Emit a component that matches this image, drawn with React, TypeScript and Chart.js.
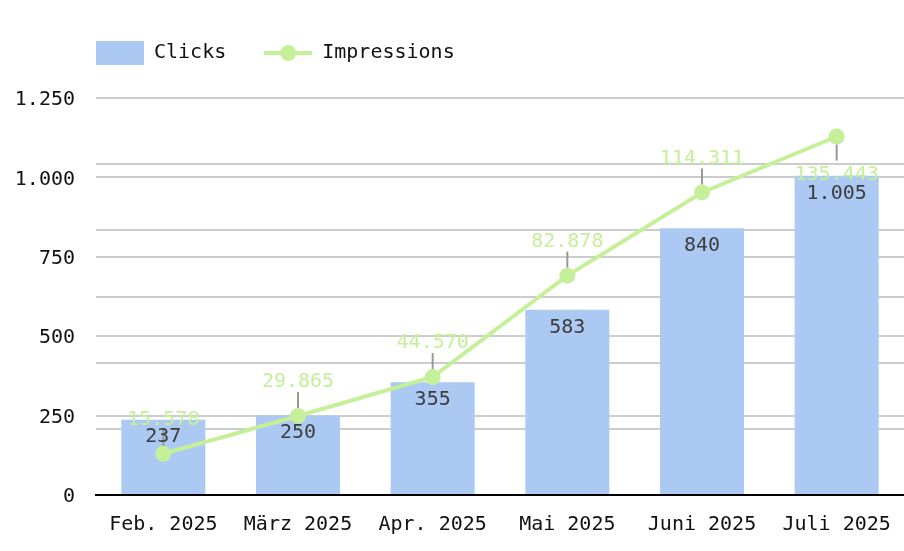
import React, { useEffect, useRef } from 'react';
import { Chart, registerables } from 'chart.js';

Chart.register(...registerables);

// ---- data ----
const categories = ['Feb. 2025', 'März 2025', 'Apr. 2025', 'Mai 2025', 'Juni 2025', 'Juli 2025'];
const clicks = [237, 250, 355, 583, 840, 1005];
const impressions = [15578, 29865, 44570, 82878, 114311, 135443];
const clickAxis = [0, 1250, 250]; // min, max, step
const impressionAxis = [0, 150000, 25000]; // min, max, step

// ---- style ----
const FONT = "'DejaVu Sans Mono', monospace";
const BAR = '#abc9f2';
const LINE = '#c6ef9a';
const GRID = '#cccccc';
const TEXT = '#111111';
const BAR_LABEL = '#3d3d3d';
const LEADER = '#999999';

const fmt = (v: number) => String(Math.round(v)).replace(/\B(?=(\d{3})+(?!\d))/g, '.');

function makeIcon(kind: 'bar' | 'line') {
  const c = document.createElement('canvas');
  c.width = 48;
  c.height = 24;
  const g = c.getContext('2d')!;
  if (kind === 'bar') {
    g.fillStyle = BAR;
    g.fillRect(0, 0, 48, 24);
  } else {
    g.strokeStyle = LINE;
    g.lineWidth = 4;
    g.beginPath();
    g.moveTo(0, 12);
    g.lineTo(48, 12);
    g.stroke();
    g.fillStyle = LINE;
    g.beginPath();
    g.arc(24, 12, 8, 0, Math.PI * 2);
    g.fill();
  }
  return c;
}

const layoutTweak = {
  id: 'layoutTweak',
  afterInit(chart: any) {
    const lg = chart.legend;
    if (lg && !lg.__wrapped) {
      const orig = lg.fit;
      lg.fit = function () {
        orig.call(this);
        this.height = 98;
      };
      lg.__wrapped = true;
    }
  },
  afterLayout(chart: any) {
    const lg = chart.legend;
    if (lg) {
      const w = lg.right - lg.left;
      lg.left = 58;
      lg.right = 58 + w;
      lg.top = 5;
    }
  },
};

const valueLabels = {
  id: 'valueLabels',
  afterDatasetsDraw(chart: any) {
    const ctx = chart.ctx;
    ctx.save();
    ctx.font = `20px ${FONT}`;
    ctx.textAlign = 'center';
    ctx.textBaseline = 'middle';
    const top = chart.chartArea.top;
    const lineMeta = chart.getDatasetMeta(1);
    lineMeta.data.forEach((pt: any, i: number) => {
      const dir = pt.y - 47 < top ? 1 : -1;
      ctx.strokeStyle = LEADER;
      ctx.lineWidth = 2;
      ctx.beginPath();
      ctx.moveTo(pt.x, pt.y + dir * 8);
      ctx.lineTo(pt.x, pt.y + dir * 24);
      ctx.stroke();
      ctx.fillStyle = LINE;
      ctx.fillText(fmt(impressions[i]), pt.x, pt.y + (dir > 0 ? 38 : -34));
    });
    const barMeta = chart.getDatasetMeta(0);
    barMeta.data.forEach((bar: any, i: number) => {
      ctx.fillStyle = BAR_LABEL;
      ctx.fillText(fmt(clicks[i]), bar.x, bar.y + 17.5);
    });
    ctx.restore();
  },
};

export default function App() {
  const ref = useRef<HTMLCanvasElement>(null);

  useEffect(() => {
    if (!ref.current) return;
    const icons = [makeIcon('bar'), makeIcon('line')];
    const chart = new Chart(ref.current, {
      type: 'bar',
      data: {
        labels: categories,
        datasets: [
          {
            type: 'bar',
            label: 'Clicks',
            data: clicks,
            backgroundColor: BAR,
            borderWidth: 0,
            yAxisID: 'y',
            order: 2,
            categoryPercentage: 0.8,
            barPercentage: 0.78,
          } as any,
          {
            type: 'line',
            label: 'Impressions',
            data: impressions,
            borderColor: LINE,
            backgroundColor: LINE,
            borderWidth: 4,
            pointRadius: 8,
            pointHoverRadius: 8,
            pointBackgroundColor: LINE,
            pointBorderWidth: 0,
            tension: 0,
            yAxisID: 'y1',
            order: 1,
          } as any,
        ],
      },
      options: {
        responsive: false,
        animation: false,
        layout: { padding: 0, autoPadding: false },
        plugins: {
          tooltip: { enabled: false },
          legend: {
            display: true,
            position: 'top',
            align: 'start',
            labels: {
              usePointStyle: true,
              pointStyleWidth: 48,
              boxHeight: 24,
              padding: 38,
              color: TEXT,
              font: { family: FONT, size: 20 },
              generateLabels: (c: any) =>
                c.data.datasets.map((ds: any, i: number) => ({
                  text: ds.label,
                  pointStyle: icons[i],
                  fillStyle: i === 0 ? BAR : LINE,
                  strokeStyle: i === 0 ? BAR : LINE,
                  lineWidth: 0,
                  hidden: false,
                  datasetIndex: i,
                  fontColor: TEXT,
                })),
            },
          },
        },
        scales: {
          x: {
            type: 'category',
            offset: true,
            grid: { display: false, drawTicks: false },
            border: { display: true, color: '#000000', width: 2 },
            ticks: { color: TEXT, font: { family: FONT, size: 20 }, padding: 18, maxRotation: 0 },
            afterFit: (s: any) => {
              s.height = 56;
              s.paddingLeft = 0;
              s.paddingRight = 0;
            },
          },
          y: {
            position: 'left',
            min: clickAxis[0],
            max: clickAxis[1],
            ticks: {
              stepSize: clickAxis[2],
              color: TEXT,
              font: { family: FONT, size: 20 },
              padding: 21,
              labelOffset: 2,
              callback: (v: any) => fmt(Number(v)),
            },
            grid: { color: GRID, lineWidth: 2, drawTicks: false },
            border: { display: false },
            afterFit: (s: any) => {
              s.width = 96;
            },
          },
          y1: {
            position: 'right',
            min: impressionAxis[0],
            max: impressionAxis[1],
            ticks: { stepSize: impressionAxis[2], display: false },
            grid: { color: GRID, lineWidth: 2, drawTicks: false, drawOnChartArea: true },
            border: { display: false },
            afterFit: (s: any) => {
              s.width = 0;
            },
          },
        },
      },
      plugins: [layoutTweak, valueLabels],
    });
    return () => chart.destroy();
  }, []);

  return (
    <div style={{ position: 'absolute', left: 0, top: 0, width: 904, height: 551, background: '#ffffff' }}>
      <canvas ref={ref} width={904} height={551} />
    </div>
  );
}
